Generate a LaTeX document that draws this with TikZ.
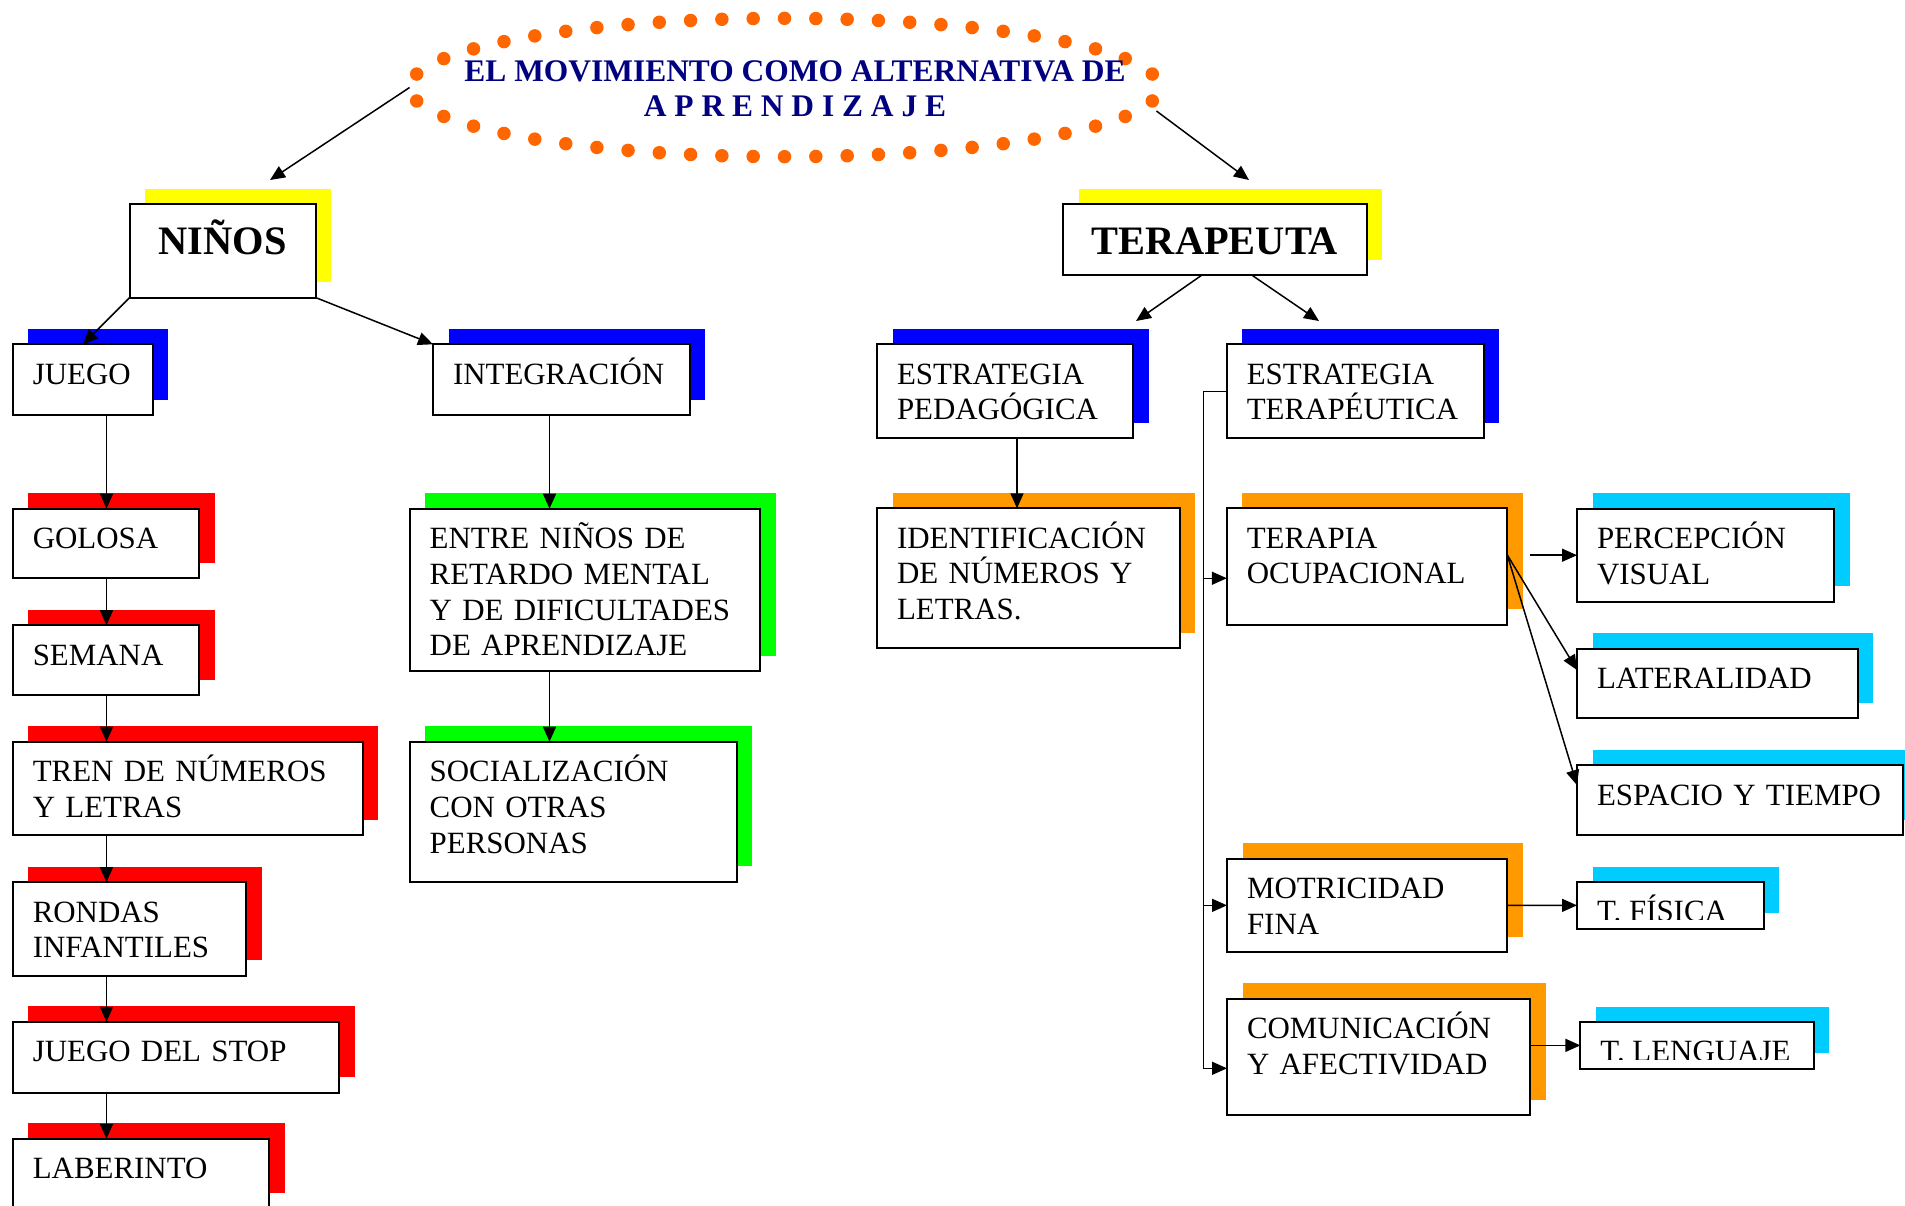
\documentclass[tikz,border=0pt]{standalone}
\usepackage{fontspec}
\setmainfont{Liberation Serif}
\usetikzlibrary{arrows.meta,shapes.geometric,shadows,calc}
\definecolor{cyel}{RGB}{255,255,0}
\definecolor{cblue}{RGB}{0,0,255}
\definecolor{cred}{RGB}{255,0,0}
\definecolor{cgreen}{RGB}{0,255,0}
\definecolor{corange}{RGB}{255,153,0}
\definecolor{ccyan}{RGB}{0,204,255}
\definecolor{cnavy}{RGB}{0,0,128}
\definecolor{cdot}{RGB}{255,102,0}
\newcommand\boxfont{\fontsize{17.6}{20.3}\selectfont}
\newcommand\titlefont{\fontsize{17.9}{20.3}\selectfont}
\tikzset{
  bx/.style={draw=black, fill=white, line width=0.04cm, anchor=north west, inner xsep=0.4cm, inner ysep=0pt, outer sep=0pt, align=left, text height=0.8cm, font=\boxfont},
  bxc/.style={draw=black, fill=white, line width=0.04cm, anchor=north west, inner sep=0pt, outer sep=0pt},
  intxt/.style={anchor=base west, inner sep=0pt, outer sep=0pt, minimum width=0pt, minimum height=0pt, draw=none, fill=none, font=\boxfont},
  sh/.style={general shadow={shadow xshift=0.31cm, shadow yshift=0.31cm, fill=#1}},
  conn/.style={line width=0.03cm, -{Triangle[length=0.3cm,width=0.26cm]}},
}
\begin{document}
\begin{tikzpicture}[x=0.02cm, y=-0.02cm]
\useasboundingbox (0,0) rectangle (1905,1205);

% title
\node[ellipse, draw=cdot, line width=0.27cm, dash pattern=on 0pt off 0.6266cm, dash phase=0.3133cm, line cap=round,
      minimum width=15.0cm, minimum height=2.768cm, inner sep=0pt, outer sep=0pt,
      text height=0.4cm, text depth=0.66cm, text=cnavy, font=\bfseries\titlefont] (title) at (784.5,87.5)
  {\makebox[0pt]{\hspace*{0.42cm}\parbox[t]{14cm}{\centering EL MOVIMIENTO COMO ALTERNATIVA DE\\A P R E N D I Z A J E}}};

% top level
\node[bx, sh=cyel, align=center, text width=2.928cm, text height=1.0cm, text depth=0.868cm, font=\bfseries\fontsize{23}{26}\selectfont] (ninos) at (129.6,204.3) {NIÑOS};
\node[bx, sh=cyel, align=center, text width=5.27cm, text height=1.0cm, text depth=0.414cm, font=\bfseries\fontsize{23}{26}\selectfont] (terapeuta) at (1063.3,204.3) {TERAPEUTA};

% second level
\node[bx, sh=cblue, text width=2.004cm, text depth=0.614cm] (juego) at (12.8,344.3) {JUEGO};
\node[bx, sh=cblue, text width=4.34cm, text depth=0.614cm] (integracion) at (433,344.3) {INTEGRACIÓN};
\node[bx, sh=cblue, text width=4.326cm, text depth=1.08cm] (estped) at (877,344.3) {ESTRATEGIA\\PEDAGÓGICA};
\node[bx, sh=cblue, text width=4.344cm, text depth=1.08cm] (estter) at (1226.8,344.3) {ESTRATEGIA\\TERAPÉUTICA};

% left column
\node[bx, sh=cred, text width=2.934cm, text depth=0.592cm] (golosa) at (12.8,508.7) {GOLOSA};
\node[bx, sh=cred, text width=2.934cm, text depth=0.596cm] (semana) at (12.8,625.2) {SEMANA};
\node[bx, sh=cred, text width=6.2cm, text depth=1.066cm] (tren) at (12.8,741.7) {TREN DE NÚMEROS\\Y LETRAS};
\node[bx, sh=cred, text width=3.872cm, text depth=1.068cm] (rondas) at (12.8,882.2) {RONDAS\\INFANTILES};
\node[bx, sh=cred, text width=5.73cm, text depth=0.616cm] (stop) at (12.8,1021.8) {JUEGO DEL STOP};
\node[bx, sh=cred, text width=4.332cm, text depth=0.6cm] (laberinto) at (12.8,1138.8) {LABERINTO};

% middle column
\node[bx, sh=cgreen, text width=6.21cm, text depth=2.454cm] (entre) at (409.7,508.7) {ENTRE NIÑOS DE\\RETARDO MENTAL\\Y DE DIFICULTADES\\DE APRENDIZAJE};
\node[bx, sh=cgreen, text width=5.74cm, text depth=2.002cm] (social) at (409.7,741.7) {SOCIALIZACIÓN\\CON OTRAS\\PERSONAS};

% right side
\node[bx, sh=corange, text width=5.254cm, text depth=2.0cm] (ident) at (877,508.3) {IDENTIFICACIÓN\\DE NÚMEROS Y\\LETRAS.};
\node[bx, sh=corange, text width=4.81cm, text depth=1.534cm] (terapia) at (1226.8,508.3) {TERAPIA\\OCUPACIONAL};
\node[bx, sh=corange, text width=4.806cm, text depth=1.066cm] (motri) at (1227,858.7) {MOTRICIDAD\\FINA};
\node[bx, sh=corange, text width=5.268cm, text depth=1.532cm] (comun) at (1227,998.7) {COMUNICACIÓN\\Y AFECTIVIDAD};

\node[bx, sh=ccyan, text width=4.346cm, text depth=1.06cm] (percep) at (1577,508.7) {PERCEPCIÓN\\VISUAL};
\node[bx, sh=ccyan, text width=4.814cm, text depth=0.592cm] (lateral) at (1577,648.7) {LATERALIDAD};
\node[bx, sh=ccyan, text width=5.726cm, text depth=0.594cm] (espacio) at (1577,765.3) {ESPACIO Y TIEMPO};
\node[bxc, sh=ccyan, minimum width=3.74cm, minimum height=0.934cm,
  path picture={\clip (path picture bounding box.north west) rectangle ([yshift=0.19cm]path picture bounding box.south east);
    \node[intxt] (tfisicat) at ([xshift=0.4cm,yshift=-0.78cm]path picture bounding box.north west) {T. FÍSICA};}] (tfisica) at (1577,882) {};
\node[bxc, sh=ccyan, minimum width=4.672cm, minimum height=0.934cm,
  path picture={\clip (path picture bounding box.north west) rectangle ([yshift=0.19cm]path picture bounding box.south east);
    \node[intxt] (tlengt) at ([xshift=0.4cm,yshift=-0.78cm]path picture bounding box.north west) {T. LENGUAJE};}] (tleng) at (1580.4,1022) {};

% connectors
\coordinate (tl) at (270,180);
\coordinate (trr) at (1249,180);
\draw[conn] (title.west) -- (tl);
\draw[conn] ($(title.east)+(-3,23.5)$) -- (trr);

\draw[conn] (ninos.south west) -- (juego.north);
\draw[conn] (ninos.south east) -- (integracion.north west);

\coordinate (lx) at (106.5,0);
\draw[conn] (lx |- juego.south) -- (lx |- golosa.north);
\draw[conn] (lx |- golosa.south) -- (lx |- semana.north);
\draw[conn] (lx |- semana.south) -- (lx |- tren.north);
\draw[conn] (lx |- tren.south) -- (lx |- rondas.north);
\draw[conn] (lx |- rondas.south) -- (lx |- stop.north);
\draw[conn] (lx |- stop.south) -- (lx |- laberinto.north);

\coordinate (mx) at (549.5,0);
\draw[conn] (mx |- integracion.south) -- (mx |- entre.north);
\draw[conn] (mx |- entre.south) -- (mx |- social.north);

\coordinate (ptl) at (1136,321);
\coordinate (ptr) at (1319,321);
\draw[conn] ($(terapeuta.south)+(-13,0)$) -- (ptl);
\draw[conn] ($(terapeuta.south)+(36.6,0)$) -- (ptr);

\coordinate (px) at (1017,0);
\draw[conn] (px |- estped.south) -- (px |- ident.north);

\coordinate (tx) at (1203.3,0);
\draw[conn] (estter.west) -- (tx |- estter.west) -- ($(tx |- comun.west)+(0,11.3)$) -- ($(comun.west)+(0,11.3)$);
\draw[conn] ($(tx |- terapia.west)+(0,11.6)$) -- ($(terapia.west)+(0,11.6)$);
\draw[conn] (tx |- motri.west) -- (motri.west);

\draw[conn] ($(percep.west)+(-47,0)$) -- (percep.west);
\draw[conn] ($(terapia.east)+(0,-11.7)$) -- ($(lateral.west)+(0,-13.5)$);
\draw[conn] ($(terapia.east)+(0,-11.7)$) -- ($(espacio.west)+(0,-15)$);
\draw[conn] (motri.east) -- (tfisica.west);
\draw[conn] (comun.east |- tleng.west) -- (tleng.west);
\end{tikzpicture}
\end{document}
